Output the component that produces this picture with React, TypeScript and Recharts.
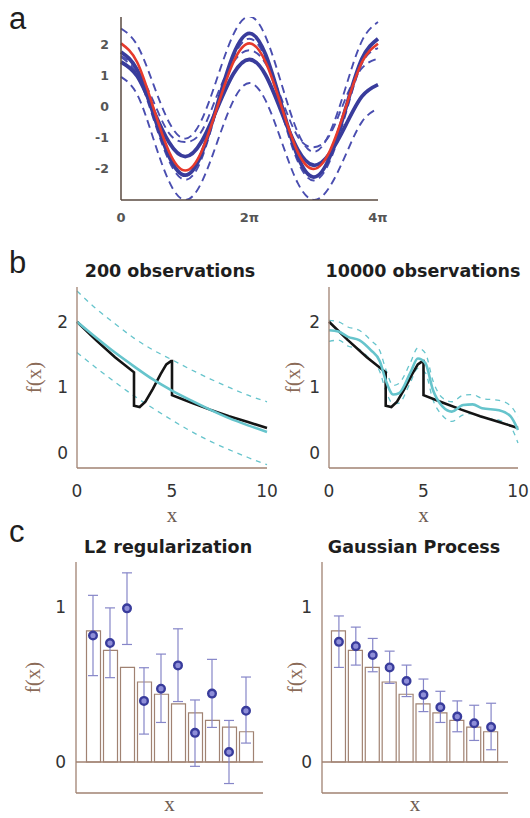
import React from "react";
import {
  LineChart,
  Line,
  ComposedChart,
  Bar,
  Scatter,
  ErrorBar,
  XAxis,
  YAxis,
  ReferenceLine,
} from "recharts";

// ---- panel a: sinusoid fits, sampled every pi/4 ----
const X_A = [0, 0.785, 1.571, 2.356, 3.142, 3.927, 4.712, 5.498, 6.283, 7.069, 7.854, 8.639, 9.425, 10.21, 10.996, 11.781, 12.566];
const TICKS_A = [0, 6.283, 12.566];
const TICK_LABELS_A = ["0", "2π", "4π"];
const RED_A = [2.05, 1.45, 0, -1.45, -2.05, -1.45, 0, 1.45, 2.05, 1.45, 0, -1.45, -2.0, -1.42, 0, 1.44, 2.04];
const BLUE1_A = [1.77, 1.2, -0.2, -1.6, -2.2, -1.53, 0.08, 1.69, 2.37, 1.69, 0.05, -1.59, -2.26, -1.61, -0.03, 1.55, 2.2];
const BLUE2_A = [1.45, 1.0, -0.08, -1.15, -1.6, -1.13, -0.03, 1.07, 1.53, 1.03, -0.17, -1.37, -1.88, -1.5, -0.58, 0.34, 0.72];
const DASH1_A = [2.53, 2.0, 0.75, -0.5, -1.02, -0.44, 0.95, 2.34, 2.92, 2.27, 0.73, -0.81, -1.45, -0.83, 0.65, 2.13, 2.74];
const DASH2_A = [0.97, 0.41, -1.0, -2.41, -3.0, -2.45, -1.12, 0.21, 0.77, 0.21, -1.12, -2.45, -3.0, -2.57, -1.53, -0.48, -0.05];
const DASH3_A = [1.65, 1.2, 0.2, -0.85, -1.13, -0.8, 0.4, 1.45, 1.83, 1.4, 0.25, -0.95, -1.3, -0.9, 0.3, 1.25, 1.56];
const DASH4_A = [1.6, 1.05, -0.35, -1.75, -2.35, -1.7, 0.0, 1.6, 2.2, 1.55, -0.15, -1.75, -2.37, -1.75, -0.2, 1.4, 1.9];

// ---- panel b: true function (with jumps) and GP fits ----
const TRUE_X = [0, 1, 2, 3, 3, 3.3, 3.6, 4.0, 4.4, 4.7, 4.95, 5, 5, 6, 7, 8, 9, 10];
const TRUE_Y = [2.0, 1.72, 1.46, 1.23, 0.72, 0.7, 0.78, 0.98, 1.2, 1.35, 1.4, 1.4, 0.88, 0.77, 0.66, 0.56, 0.47, 0.38];
const FIT200_X = [0, 1, 2, 3, 4, 5, 6, 7, 8, 9, 10];
const FIT200_MEAN = [2.0, 1.76, 1.53, 1.32, 1.12, 0.95, 0.8, 0.66, 0.53, 0.42, 0.32];
const FIT200_HI = [2.47, 2.2, 1.97, 1.75, 1.57, 1.42, 1.27, 1.13, 1.0, 0.88, 0.78];
const FIT200_LO = [1.53, 1.3, 1.08, 0.87, 0.68, 0.5, 0.33, 0.18, 0.05, -0.07, -0.18];
const FIT10K_X = [0, 0.5, 1, 1.6, 2.2, 2.7, 3.0, 3.4, 3.7, 4.3, 4.7, 5.1, 5.5, 6.0, 6.5, 7.1, 7.6, 8.1, 9.0, 9.6, 10];
const FIT10K_MEAN = [1.87, 1.85, 1.77, 1.72, 1.57, 1.39, 1.11, 0.89, 0.91, 1.22, 1.44, 1.37, 0.96, 0.71, 0.63, 0.73, 0.74, 0.68, 0.65, 0.56, 0.35];
const FIT10K_HI = [2.02, 2.0, 1.92, 1.87, 1.72, 1.55, 1.28, 1.03, 1.06, 1.37, 1.6, 1.52, 1.1, 0.84, 0.78, 0.88, 0.89, 0.83, 0.8, 0.72, 0.55];
const FIT10K_LO = [1.7, 1.72, 1.63, 1.58, 1.42, 1.23, 0.95, 0.75, 0.76, 1.07, 1.29, 1.22, 0.81, 0.57, 0.48, 0.58, 0.6, 0.54, 0.5, 0.4, 0.15];
const TICKS_B_X = [0, 5, 10];
const TICKS_B_Y = [0, 1, 2];

// ---- panel c: binned function values with estimates ----
const BINS = [1, 2, 3, 4, 5, 6, 7, 8, 9, 10];
const TRUE_BARS = [0.846, 0.72, 0.61, 0.516, 0.437, 0.375, 0.317, 0.268, 0.225, 0.195];
const L2_PTS = [0.816, 0.767, 0.991, 0.394, 0.473, 0.623, 0.188, 0.441, 0.064, 0.33];
const L2_LO = [0.557, 0.544, 0.758, 0.18, 0.255, 0.39, -0.028, 0.223, -0.139, 0.122];
const L2_HI = [1.075, 0.994, 1.22, 0.608, 0.696, 0.859, 0.4, 0.662, 0.268, 0.548];
const GP_PTS = [0.775, 0.747, 0.69, 0.61, 0.522, 0.433, 0.353, 0.293, 0.25, 0.225];
const GP_LO = [0.61, 0.625, 0.582, 0.507, 0.422, 0.325, 0.255, 0.195, 0.139, 0.079];
const GP_HI = [0.942, 0.87, 0.797, 0.715, 0.625, 0.535, 0.456, 0.394, 0.366, 0.379];

const AXIS = "#a08272";
const SANS = "DejaVu Sans";
const SERIF = "Liberation Serif";
const CYAN = "#66c4cc";
const BLUE = "#393c9c";

const tableA = X_A.map((x, i) => ({
  x,
  red: RED_A[i],
  b1: BLUE1_A[i],
  b2: BLUE2_A[i],
  d1: DASH1_A[i],
  d2: DASH2_A[i],
  d3: DASH3_A[i],
  d4: DASH4_A[i],
}));

const pairs = (xs: number[], ys: number[]) => xs.map((x, i) => ({ x, y: ys[i] }));

const yLabel = (dx: number) => (p: any) => {
  const vb = p.viewBox;
  const cx = vb.x + vb.width - dx;
  const cy = vb.y + vb.height / 2;
  return (
    <text
      x={cx}
      y={cy}
      transform={`rotate(-90 ${cx} ${cy})`}
      textAnchor="middle"
      dominantBaseline="central"
      fontFamily={SERIF}
      fontSize={21}
      fill="#8b6b58"
    >
      f(x)
    </text>
  );
};

const xLabel = (dy: number) => (p: any) => {
  const vb = p.viewBox;
  return (
    <text
      x={vb.x + vb.width / 2}
      y={vb.y + dy}
      textAnchor="middle"
      fontFamily={SERIF}
      fontSize={21}
      fill="#6e5c52"
    >
      x
    </text>
  );
};

function PanelA() {
  const dashed = { stroke: "#4a4eb0", strokeWidth: 1.9, strokeDasharray: "8 5", dot: false, type: "natural" as const, isAnimationActive: false };
  return (
    <LineChart width={530} height={240} data={tableA} margin={{ top: 17, right: 152, bottom: 10, left: 0 }}>
      <XAxis
        dataKey="x"
        type="number"
        domain={[0, 12.566]}
        ticks={TICKS_A}
        tickFormatter={(v: number) => TICK_LABELS_A[TICKS_A.indexOf(v)]}
        height={30}
        tickLine={false}
        tickSize={0}
        tickMargin={13}
        axisLine={{ stroke: "#5a4a40", strokeWidth: 1.5 }}
        tick={{ fontSize: 13, fontWeight: "bold", fill: "#555", fontFamily: SANS }}
      />
      <YAxis
        type="number"
        domain={[-3, 2.9]}
        allowDataOverflow
        ticks={[-2, -1, 0, 1, 2]}
        width={121}
        tickLine={false}
        tickSize={0}
        tickMargin={12}
        axisLine={{ stroke: "#5a4a40", strokeWidth: 1.5 }}
        tick={{ fontSize: 12.5, fontWeight: "bold", fill: "#555", fontFamily: SANS }}
      />
      <Line dataKey="d1" {...dashed} />
      <Line dataKey="d2" {...dashed} />
      <Line dataKey="d3" {...dashed} />
      <Line dataKey="d4" {...dashed} />
      <Line dataKey="b2" type="natural" stroke={BLUE} strokeWidth={3.8} dot={false} isAnimationActive={false} />
      <Line dataKey="b1" type="natural" stroke={BLUE} strokeWidth={3.8} dot={false} isAnimationActive={false} />
      <Line dataKey="red" type="natural" stroke="#e63a2c" strokeWidth={2.6} dot={false} isAnimationActive={false} />
    </LineChart>
  );
}

function PanelB({ width, axisW, right, fitX, mean, hi, lo, labelDx }: any) {
  return (
    <LineChart width={width} height={290} margin={{ top: 47, right, bottom: 22, left: 0 }}>
      <XAxis
        dataKey="x"
        type="number"
        domain={[0, 10]}
        ticks={TICKS_B_X}
        height={40}
        tickLine={false}
        tickSize={0}
        tickMargin={17}
        axisLine={{ stroke: AXIS, strokeWidth: 1.3 }}
        tick={{ fontSize: 17, fill: "#333", fontFamily: SANS }}
        label={{ content: xLabel(54) }}
      />
      <YAxis
        type="number"
        domain={[-0.23, 2.53]}
        allowDataOverflow
        ticks={TICKS_B_Y}
        width={axisW}
        tickLine={false}
        tickSize={0}
        tickMargin={9}
        axisLine={{ stroke: AXIS, strokeWidth: 1.3 }}
        tick={{ fontSize: 17, fill: "#333", fontFamily: SANS }}
        label={{ content: yLabel(labelDx) }}
      />
      <Line data={pairs(fitX, hi)} dataKey="y" type="monotone" stroke={CYAN} strokeWidth={1.3} strokeDasharray="5 5" dot={false} isAnimationActive={false} />
      <Line data={pairs(fitX, lo)} dataKey="y" type="monotone" stroke={CYAN} strokeWidth={1.3} strokeDasharray="5 5" dot={false} isAnimationActive={false} />
      <Line data={pairs(TRUE_X, TRUE_Y)} dataKey="y" type="linear" stroke="#141414" strokeWidth={2.6} dot={false} isAnimationActive={false} />
      <Line data={pairs(fitX, mean)} dataKey="y" type="monotone" stroke={CYAN} strokeWidth={2.6} dot={false} isAnimationActive={false} />
    </LineChart>
  );
}

const Ring = (p: any) => (
  <circle cx={p.cx} cy={p.cy} r={3.8} fill="#8e8ed8" stroke={BLUE} strokeWidth={2.4} />
);

function PanelC({ width, axisW, right, pts, lo, hi, labelDx }: any) {
  const rows = BINS.map((x, i) => ({
    x,
    bar: TRUE_BARS[i],
    pt: pts[i],
    err: [pts[i] - lo[i], hi[i] - pts[i]],
  }));
  return (
    <ComposedChart width={width} height={288} data={rows} margin={{ top: 32, right, bottom: 5, left: 0 }}>
      <XAxis
        dataKey="x"
        type="number"
        domain={[0, 11]}
        tick={false}
        tickLine={false}
        height={20}
        axisLine={{ stroke: AXIS, strokeWidth: 1.3 }}
        label={{ content: xLabel(18) }}
      />
      <YAxis
        type="number"
        domain={[-0.2, 1.29]}
        allowDataOverflow
        ticks={[0, 1]}
        width={axisW}
        tickLine={false}
        tickSize={0}
        tickMargin={10}
        axisLine={{ stroke: AXIS, strokeWidth: 1.3 }}
        tick={{ fontSize: 17, fill: "#333", fontFamily: SANS }}
        label={{ content: yLabel(labelDx) }}
      />
      <ReferenceLine y={0} stroke={AXIS} strokeWidth={1.3} />
      <Bar dataKey="bar" barSize={14} fill="#fff" stroke={AXIS} strokeWidth={1.2} isAnimationActive={false} />
      <Scatter dataKey="pt" shape={Ring} isAnimationActive={false}>
        <ErrorBar dataKey="err" direction="y" width={5} stroke="#8686c8" strokeWidth={1.2} />
      </Scatter>
    </ComposedChart>
  );
}

const titleStyle = { fontFamily: SANS, fontWeight: "bold" as const, fontSize: 17.5, fill: "#1e1e1e" };
const letterStyle = { fontFamily: "Liberation Sans", fontSize: 31, fill: "#1e1e1e" };

export default function App() {
  return (
    <div style={{ position: "absolute", left: 0, top: 0, width: 530, height: 818, background: "#fff", overflow: "hidden" }}>
      <div style={{ position: "absolute", left: 0, top: 0 }}>
        <PanelA />
      </div>
      <div style={{ position: "absolute", left: 0, top: 240 }}>
        <PanelB width={290} axisW={77} right={23} fitX={FIT200_X} mean={FIT200_MEAN} hi={FIT200_HI} lo={FIT200_LO} labelDx={43} />
      </div>
      <div style={{ position: "absolute", left: 270, top: 240 }}>
        <PanelB width={260} axisW={59} right={12} fitX={FIT10K_X} mean={FIT10K_MEAN} hi={FIT10K_HI} lo={FIT10K_LO} labelDx={36} />
      </div>
      <div style={{ position: "absolute", left: 0, top: 530 }}>
        <PanelC width={270} axisW={76} right={7} pts={L2_PTS} lo={L2_LO} hi={L2_HI} labelDx={43} />
      </div>
      <div style={{ position: "absolute", left: 270, top: 530 }}>
        <PanelC width={260} axisW={52} right={22} pts={GP_PTS} lo={GP_LO} hi={GP_HI} labelDx={27} />
      </div>
      <svg width={530} height={818} style={{ position: "absolute", left: 0, top: 0, pointerEvents: "none" }}>
        <text x={9} y={29} {...letterStyle}>a</text>
        <text x={9} y={273} {...letterStyle}>b</text>
        <text x={9} y={542} {...letterStyle}>c</text>
        <text x={170} y={277} textAnchor="middle" {...titleStyle}>200 observations</text>
        <text x={423} y={277} textAnchor="middle" {...titleStyle}>10000 observations</text>
        <text x={168} y={553} textAnchor="middle" {...titleStyle}>L2 regularization</text>
        <text x={414} y={553} textAnchor="middle" {...titleStyle}>Gaussian Process</text>
      </svg>
    </div>
  );
}
